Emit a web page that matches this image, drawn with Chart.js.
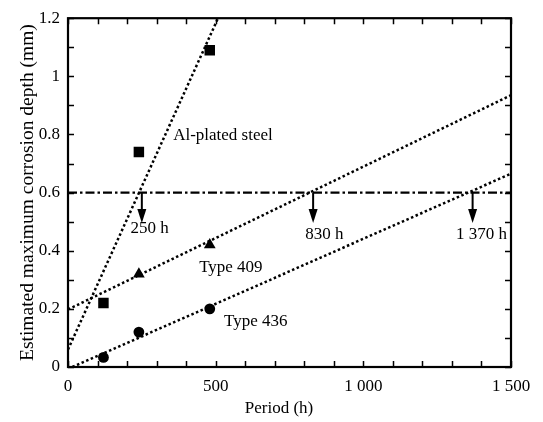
<!DOCTYPE html>
<html>
<head>
<meta charset="utf-8">
<script src="https://cdn.jsdelivr.net/npm/chart.js@4.4.1/dist/chart.umd.min.js"></script>
<style>
  body { margin: 0; background: #fff; }
  canvas { display: block; }
</style>
</head>
<body>
<canvas id="chart" width="543" height="422"></canvas>
<script>
// Measured points (period in h, depth in mm)
const alHours = [120, 240, 480];
const alDepth = [0.22, 0.74, 1.09];
const t409Hours = [240, 480];
const t409Depth = [0.32, 0.42];
const t436Hours = [120, 240, 480];
const t436Depth = [0.033, 0.12, 0.2];

// Fitted lines, start and end
const alFitHours = [0, 508];
const alFitDepth = [0.06, 1.2];
const t409FitHours = [0, 1500];
const t409FitDepth = [0.198, 0.935];
const t436FitHours = [15, 1500];
const t436FitDepth = [0, 0.665];

// Limit depth and where each fit crosses it
const limitHours = [0, 1500];
const limitDepth = [0.6, 0.6];
const lifeHours = [250, 830, 1370];
const lifeLabels = ['250 h', '830 h', '1 370 h'];
const arrowTipDepth = 0.495;

// Tick labels
const xTicks = [0, 500, 1000, 1500];
const xTickLabels = ['0', '500', '1 000', '1 500'];
const yTicks = [0, 0.2, 0.4, 0.6, 0.8, 1, 1.2];
const yTickLabels = ['0', '0.2', '0.4', '0.6', '0.8', '1', '1.2'];

const FONT = '"Liberation Serif", "DejaVu Serif", serif';

function toPoints(xs, ys) {
    return xs.map((x, i) => ({ x: x, y: ys[i] }));
}

function labelFor(value, ticks, labels) {
    const i = ticks.findIndex(t => Math.abs(t - value) < 1e-6);
    return i >= 0 ? labels[i] : '';
}

// Text placed in data coordinates
const notes = [
    { text: 'Al-plated steel', x: 356, y: 0.798 },
    { text: 'Type 409', x: 444, y: 0.342 },
    { text: 'Type 436', x: 528, y: 0.156 },
    { text: lifeLabels[0], x: 212, y: 0.477 },
    { text: lifeLabels[1], x: 803, y: 0.456 },
    { text: lifeLabels[2], x: 1314, y: 0.456 }
];

// Frame, inward ticks, arrows and notes
const decorations = {
    id: 'decorations',
    afterDatasetsDraw(chart) {
        const ctx = chart.ctx;
        const area = chart.chartArea;
        const xs = chart.scales.x;
        const ys = chart.scales.y;
        ctx.save();
        ctx.strokeStyle = '#000';
        ctx.fillStyle = '#000';

        // inward ticks every 100 h and every 0.1 mm
        ctx.lineWidth = 1.5;
        ctx.beginPath();
        xs.ticks.forEach(t => {
            const px = Math.round(xs.getPixelForValue(t.value)) + 0.5;
            ctx.moveTo(px, area.bottom); ctx.lineTo(px, area.bottom - 6);
            ctx.moveTo(px, area.top); ctx.lineTo(px, area.top + 6);
        });
        ys.ticks.forEach(t => {
            const py = Math.round(ys.getPixelForValue(t.value)) + 0.5;
            ctx.moveTo(area.left, py); ctx.lineTo(area.left + 6, py);
            ctx.moveTo(area.right, py); ctx.lineTo(area.right - 6, py);
        });
        ctx.stroke();

        // frame
        ctx.lineWidth = 2.2;
        ctx.strokeRect(area.left, area.top, area.right - area.left, area.bottom - area.top);

        // arrows down from the limit line
        lifeHours.forEach(h => {
            const px = xs.getPixelForValue(h);
            const top = ys.getPixelForValue(limitDepth[0]);
            const tip = ys.getPixelForValue(arrowTipDepth);
            ctx.lineWidth = 2;
            ctx.beginPath();
            ctx.moveTo(px, top);
            ctx.lineTo(px, tip - 8);
            ctx.stroke();
            ctx.beginPath();
            ctx.moveTo(px - 4.5, tip - 14);
            ctx.lineTo(px + 4.5, tip - 14);
            ctx.lineTo(px, tip);
            ctx.closePath();
            ctx.fill();
        });

        // notes
        ctx.font = '17px ' + FONT;
        ctx.textBaseline = 'middle';
        ctx.textAlign = 'left';
        notes.forEach(n => {
            ctx.fillText(n.text, xs.getPixelForValue(n.x), ys.getPixelForValue(n.y));
        });

        // x axis title
        ctx.textAlign = 'center';
        ctx.fillText('Period (h)', 279, 409);
        ctx.restore();
    }
};

const markerStyle = {
    showLine: false,
    backgroundColor: '#000',
    borderColor: '#000',
    borderWidth: 0
};
const fitStyle = {
    showLine: true,
    pointRadius: 0,
    borderColor: '#000',
    borderWidth: 2.5,
    borderDash: [2.5, 2.5]
};

new Chart(document.getElementById('chart').getContext('2d'), {
    type: 'scatter',
    data: {
        datasets: [
            Object.assign({ label: 'Al-plated steel', data: toPoints(alHours, alDepth), pointStyle: 'rect', pointRadius: 7.4 }, markerStyle),
            Object.assign({ label: 'Type 409', data: toPoints(t409Hours, t409Depth), pointStyle: 'triangle', pointRadius: 6.8 }, markerStyle),
            Object.assign({ label: 'Type 436', data: toPoints(t436Hours, t436Depth), pointStyle: 'circle', pointRadius: 5.4 }, markerStyle),
            Object.assign({ label: 'Al fit', data: toPoints(alFitHours, alFitDepth) }, fitStyle),
            Object.assign({ label: '409 fit', data: toPoints(t409FitHours, t409FitDepth) }, fitStyle),
            Object.assign({ label: '436 fit', data: toPoints(t436FitHours, t436FitDepth) }, fitStyle),
            Object.assign({ label: 'Limit', data: toPoints(limitHours, limitDepth) }, fitStyle, { borderWidth: 2.2, borderDash: [9, 3, 2.5, 3] })
        ]
    },
    options: {
        responsive: false,
        animation: false,
        devicePixelRatio: 1,
        layout: { padding: { left: 0, top: 12, right: 32, bottom: 0 } },
        plugins: {
            legend: { display: false },
            tooltip: { enabled: false }
        },
        scales: {
            x: {
                type: 'linear',
                min: 0,
                max: 1500,
                afterFit: scale => { scale.height = 55; },
                grid: { display: false, drawTicks: false },
                border: { display: false },
                ticks: {
                    stepSize: 100,
                    autoSkip: false,
                    maxRotation: 0,
                    padding: 9,
                    color: '#000',
                    font: { family: FONT, size: 17 },
                    callback: v => labelFor(v, xTicks, xTickLabels)
                }
            },
            y: {
                type: 'linear',
                min: 0,
                max: 1.2,
                afterFit: scale => { scale.width = 68; },
                grid: { display: false, drawTicks: false },
                border: { display: false },
                title: {
                    display: true,
                    text: 'Estimated maximum corrosion depth (mm)',
                    color: '#000',
                    font: { family: FONT, size: 19.5 },
                    padding: { top: 16, bottom: 0 }
                },
                ticks: {
                    stepSize: 0.1,
                    autoSkip: false,
                    padding: 8,
                    color: '#000',
                    font: { family: FONT, size: 17 },
                    callback: v => labelFor(v, yTicks, yTickLabels)
                }
            }
        }
    },
    plugins: [decorations]
});
</script>
</body>
</html>
